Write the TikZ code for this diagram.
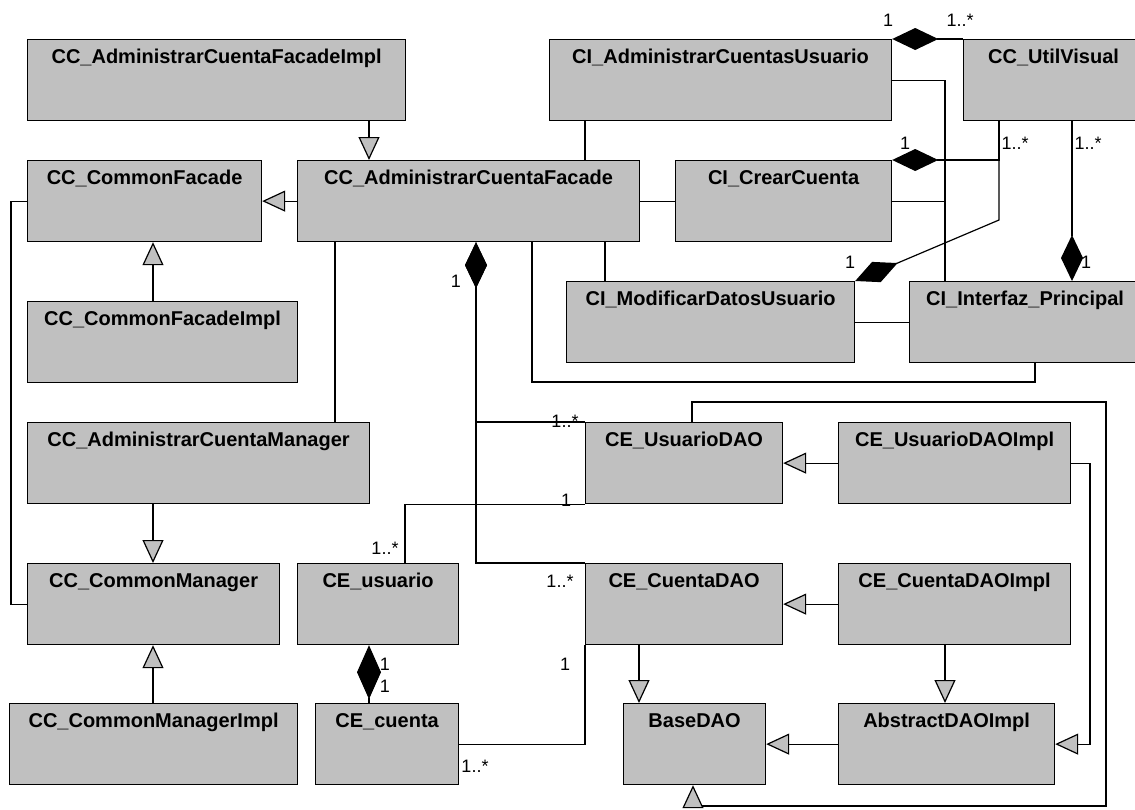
\documentclass[tikz,border=0pt]{standalone}
\usepackage{fontspec}
\setmainfont{Liberation Sans}
\usepackage{tikz}
\usepackage{xcolor}
\usetikzlibrary{
    arrows.meta,
    calc,
    positioning
}
\definecolor{boxgray}{RGB}{192,192,192}
\tikzset{
    cls/.style={draw=black, fill=boxgray, line width=1.2pt, anchor=north west,
        minimum height=81pt, inner xsep=2pt, inner ysep=4pt,
        text height=20pt, text depth=53pt,
        font=\fontsize{20}{24}\selectfont\bfseries},
    mult/.style={inner sep=0pt, font=\fontsize{18}{20}\selectfont},
    gen/.style={-{Triangle[length=23pt,width=21pt,fill=boxgray]}},
    comp/.style={{Diamond[length=46pt,width=22pt]}-}
}

\begin{document}
\begin{tikzpicture}[x=1pt, y=-1pt, line width=1.2pt, line join=miter]
                        \useasboundingbox (0,0) rectangle (1135,809);
                        \clip (0,0) rectangle (1135,809);
                        % classes
                        \node[cls, minimum width=378pt] (facadeImpl) at (27,39) {CC\_AdministrarCuentaFacadeImpl};
                        \node[cls, minimum width=342pt] (ciAdmin) at (549,39) {CI\_AdministrarCuentasUsuario};
                        \node[cls, minimum width=180pt] (utilVisual) at (963,39) {CC\_UtilVisual};
                        \node[cls, minimum width=234pt] (commonFacade) at (27,160) {CC\_CommonFacade};
                        \node[cls, minimum width=342pt] (facade) at (297,160) {CC\_AdministrarCuentaFacade};
                        \node[cls, minimum width=216pt] (crear) at (675,160) {CI\_CrearCuenta};
                        \node[cls, minimum width=270pt] (commonFacadeImpl) at (27,301) {CC\_CommonFacadeImpl};
                        \node[cls, minimum width=288pt] (modificar) at (566,281) {CI\_ModificarDatosUsuario};
                        \node[cls, minimum width=231pt] (interfaz) at (909,281) {CI\_Interfaz\_Principal};
                        \node[cls, minimum width=342pt] (manager) at (27,422) {CC\_AdministrarCuentaManager};
                        \node[cls, minimum width=197pt] (usuarioDAO) at (585,422) {CE\_UsuarioDAO};
                        \node[cls, minimum width=232pt] (usuarioDAOImpl) at (838,422) {CE\_UsuarioDAOImpl};
                        \node[cls, minimum width=252pt] (commonManager) at (27,563) {CC\_CommonManager};
                        \node[cls, minimum width=161pt] (usuario) at (297,563) {CE\_usuario};
                        \node[cls, minimum width=197pt] (cuentaDAO) at (585,563) {CE\_CuentaDAO};
                        \node[cls, minimum width=232pt] (cuentaDAOImpl) at (838,563) {CE\_CuentaDAOImpl};
                        \node[cls, minimum width=288pt] (commonManagerImpl) at (9,703) {CC\_CommonManagerImpl};
                        \node[cls, minimum width=143pt] (cuenta) at (315,703) {CE\_cuenta};
                        \node[cls, minimum width=142pt] (baseDAO) at (623,703) {BaseDAO};
                        \node[cls, minimum width=216pt] (abstractDAO) at (838,703) {AbstractDAOImpl};
                        % generalizations
                        \draw[gen] (369,0 |- facadeImpl.south) -- (369,0 |- facade.north);
                        \draw[gen] (facade.west) -- (commonFacade.east);
                        \draw[gen] (153,0 |- commonFacadeImpl.north) -- (153,0 |- commonFacade.south);
                        \draw[gen] (153,0 |- manager.south) -- (153,0 |- commonManager.north);
                        \draw[gen] (153,0 |- commonManagerImpl.north) -- (153,0 |- commonManager.south);
                        \draw[gen] (usuarioDAOImpl.west) -- (usuarioDAO.east);
                        \draw[gen] (cuentaDAOImpl.west) -- (cuentaDAO.east);
                        \draw[gen] (639,0 |- cuentaDAO.south) -- (639,0 |- baseDAO.north);
                        \draw[gen] (945,0 |- cuentaDAOImpl.south) -- (945,0 |- abstractDAO.north);
                        \draw[gen] (abstractDAO.west) -- (baseDAO.east);
                        \draw[gen] (usuarioDAOImpl.east) -- (1090,0 |- usuarioDAOImpl.east) |- (abstractDAO.east);
                        \draw[gen] (692,0 |- usuarioDAO.north) -- (692,402) -- (1106,402) -- (1106,806) -- (693,806) -- (693,0 |- baseDAO.south);
                        % associations
                        \draw (585,0 |- ciAdmin.south) -- (585,0 |- facade.north);
                        \draw (facade.east) -- (crear.west);
                        \draw (335,0 |- facade.south) -- (335,0 |- manager.north);
                        \draw (605,0 |- facade.south) -- (605,0 |- modificar.north);
                        \draw (532,0 |- facade.south) -- (532,382) -- (1035,382) -- (1035,0 |- interfaz.south);
                        \draw (modificar.east) -- (interfaz.west);
                        \draw (ciAdmin.east) -- (945,0 |- ciAdmin.east) -- (945,0 |- interfaz.north);
                        \draw (crear.east) -- (945,0 |- crear.east);
                        \draw (usuarioDAO.south west) -- (405,0 |- usuarioDAO.south west) -- (405,0 |- usuario.north);
                        \draw (cuentaDAO.south west) |- (cuenta.east);
                        \draw (commonFacade.west) -- (11,0 |- commonFacade.west) |- (commonManager.west);
                        % compositions
                        \draw[comp] (ciAdmin.north east) -- (utilVisual.north west);
                        \draw[comp] (crear.north east) -- (999,0 |- crear.north) -- (999,0 |- utilVisual.south);
                        \draw[comp] (modificar.north east) -- (999,220) -- (999,0 |- utilVisual.south);
                        \draw[comp] (1072,0 |- interfaz.north) -- (1072,0 |- utilVisual.south);
                        \draw[comp] (476,0 |- facade.south) |- (usuarioDAO.north west);
                        \draw[comp] (476,0 |- facade.south) |- (cuentaDAO.north west);
                        \draw[{Diamond[length=54pt,width=24pt]}-] (369,0 |- usuario.south) -- (369,0 |- cuenta.north);
                        % multiplicities
                        \node[mult] (mA1) at (888,20) {1};
                        \node[mult] (mA2) at (960,20) {1..*};
                        \node[mult] (mB1) at (905,143) {1};
                        \node[mult] (mB2) at (1015,143) {1..*};
                        \node[mult] (mC2) at (1088,143) {1..*};
                        \node[mult] (mD1) at (850,262) {1};
                        \node[mult] (mE1) at (1086,262) {1};
                        \node[mult] (mF1) at (456,281) {1};
                        \node[mult] (mF2) at (565,421) {1..*};
                        \node[mult] (mG2) at (560,581) {1..*};
                        \node[mult] (mH1) at (566,500) {1};
                        \node[mult] (mH2) at (385,548) {1..*};
                        \node[mult] (mI1) at (565,664) {1};
                        \node[mult] (mI2) at (475,766) {1..*};
                        \node[mult] (mJ1) at (385,664) {1};
                        \node[mult] (mJ2) at (385,686) {1};
                    \end{tikzpicture}
\end{document}
